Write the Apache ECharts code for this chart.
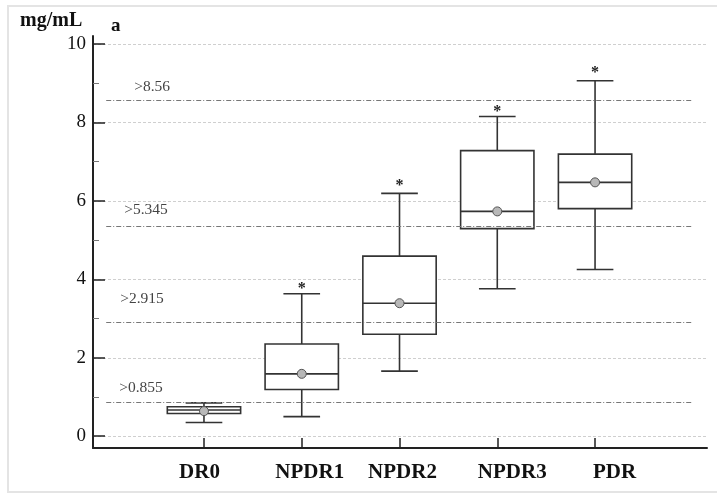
<!DOCTYPE html>
<html>
<head>
<meta charset="utf-8">
<script src="https://cdn.jsdelivr.net/npm/echarts@6/dist/echarts.min.js"></script>
<style>
  html, body { margin: 0; padding: 0; background: #fff; }
  #chart { width: 717px; height: 493px; }
</style>
</head>
<body>
<div id="chart"></div>
<script>
const categories = ['DR0', 'NPDR1', 'NPDR2', 'NPDR3', 'PDR']
const whiskerLow = [0.35, 0.50, 1.66, 3.76, 4.25]
const q1 = [0.58, 1.19, 2.60, 5.29, 5.80]
const medians = [0.67, 1.59, 3.39, 5.73, 6.47]
const q3 = [0.75, 2.35, 4.59, 7.28, 7.19]
const whiskerHigh = [0.85, 3.63, 6.19, 8.15, 9.06]
const means = [0.64, 1.59, 3.39, 5.73, 6.47]
const extremes = [null, 3.85, 6.49, 8.38, 9.37]
const cutoffs = [8.56, 5.345, 2.915, 0.855]
const cutoffLabels = ['>8.56', '>5.345', '>2.915', '>0.855']
const yTicks = [0, 2, 4, 6, 8, 10]
const yMinorTicks = [1, 3, 5, 7, 9]

const serif = '"Liberation Serif", "DejaVu Serif", serif'
// label nudges (px) so the category names sit like in the figure
const labelPad = [[0, 9, 0, 0], [0, 0, 0, 16], [0, 0, 0, 6], [0, 0, 0, 30], [0, 0, 0, 39]]
const cutoffLabelDist = [[28, 5], [18, 9], [14, 15], [13, 7]]

const boxData = categories.map((c, i) => [
  i, whiskerLow[i], q1[i], medians[i], q3[i], whiskerHigh[i], means[i],
  extremes[i] == null ? '-' : extremes[i]
])

function renderBox(params, api) {
  const i = api.value(0)
  const half = api.size([1, 0])[0] * 0.375
  const cap = half / 2
  const p = k => api.coord([i, api.value(k)])
  const lo = p(1), b1 = p(2), md = p(3), b3 = p(4), hi = p(5), mn = p(6)
  const x = lo[0]
  const ln = (x1, y1, x2, y2) => ({
    type: 'line',
    shape: { x1, y1, x2, y2 },
    style: { stroke: '#333', lineWidth: 1.6 }
  })
  const children = [
    ln(x, hi[1], x, b3[1]),
    ln(x, b1[1], x, lo[1]),
    ln(x - cap, hi[1], x + cap, hi[1]),
    ln(x - cap, lo[1], x + cap, lo[1]),
    {
      type: 'rect',
      shape: { x: x - half, y: b3[1], width: half * 2, height: b1[1] - b3[1] },
      style: { fill: '#fff', stroke: '#333', lineWidth: 1.6 }
    },
    ln(x - half, md[1], x + half, md[1]),
    {
      type: 'circle',
      shape: { cx: x, cy: mn[1], r: 4.5 },
      style: { fill: '#b8b8b8', stroke: '#555', lineWidth: 1 }
    }
  ]
  const ex = api.value(7)
  if (!isNaN(ex)) {
    const e = api.coord([i, ex])
    children.push({
      type: 'text',
      x: e[0],
      y: e[1] + 4,
      style: { text: '*', font: 'bold 16px ' + serif, align: 'center', verticalAlign: 'middle', fill: '#222' }
    })
  }
  return { type: 'group', children }
}

const rich = {}
labelPad.forEach((pad, i) => {
  rich['c' + i] = { fontFamily: serif, fontSize: 21, fontWeight: 'bold', color: '#111', padding: pad }
})

const chart = echarts.init(document.getElementById('chart'))
chart.setOption({
  animation: false,
  backgroundColor: '#fff',
  graphic: [
    {
      type: 'rect',
      shape: { x: 8, y: 6, width: 710, height: 486 },
      style: { fill: 'none', stroke: '#e4e4e4', lineWidth: 2 },
      silent: true
    },
    {
      type: 'text', left: 20, top: 11,
      style: { text: 'mg/mL', font: 'bold 20px ' + serif, fill: '#111' }
    },
    {
      type: 'text', left: 111, top: 17,
      style: { text: 'a', font: 'bold 19px ' + serif, fill: '#111' }
    }
  ],
  grid: { left: 93, right: 10, top: 36, bottom: 45 },
  xAxis: {
    type: 'value',
    min: -1.135,
    max: 5.145,
    splitLine: { show: false },
    axisLine: { show: true, onZero: false, lineStyle: { color: '#222', width: 2 } },
    axisTick: { show: true, inside: true, length: 10, customValues: [0, 1, 2, 3, 4], lineStyle: { color: '#222', width: 1.5 } },
    axisLabel: {
      customValues: [0, 1, 2, 3, 4],
      margin: 14,
      formatter: v => '{c' + v + '|' + categories[v] + '}',
      rich
    }
  },
  yAxis: [
    {
      type: 'value',
      min: -0.3,
      max: 10.2,
      axisLine: { show: true, onZero: false, lineStyle: { color: '#222', width: 2 } },
      axisTick: { show: true, inside: true, length: 12, customValues: yTicks, lineStyle: { color: '#222', width: 1.5 } },
      axisLabel: { customValues: yTicks, margin: 7, fontFamily: serif, fontSize: 19, color: '#111' },
      splitLine: { show: true, lineStyle: { color: '#cfcfcf', type: [3, 2], width: 1 } }
    },
    {
      type: 'value',
      min: -0.3,
      max: 10.2,
      position: 'left',
      offset: 0,
      axisLine: { show: false, onZero: false },
      axisTick: { show: true, inside: true, length: 6, customValues: yMinorTicks, lineStyle: { color: '#777', width: 1 } },
      axisLabel: { show: false },
      splitLine: { show: false }
    }
  ],
  series: [
    {
      type: 'line',
      data: [],
      z: 1,
      markLine: {
        silent: true,
        symbol: 'none',
        lineStyle: { color: '#777', type: [5, 2, 1, 2], width: 1.2 },
        data: cutoffs.map((v, i) => [
          {
            coord: [-1, v],
            label: {
              show: true,
              position: 'insideStartTop',
              distance: cutoffLabelDist[i],
              formatter: cutoffLabels[i],
              fontFamily: serif,
              fontSize: 15.5,
              color: '#444'
            }
          },
          { coord: [5, v] }
        ])
      }
    },
    {
      type: 'custom',
      z: 3,
      renderItem: renderBox,
      data: boxData
    }
  ]
})
</script>
</body>
</html>
